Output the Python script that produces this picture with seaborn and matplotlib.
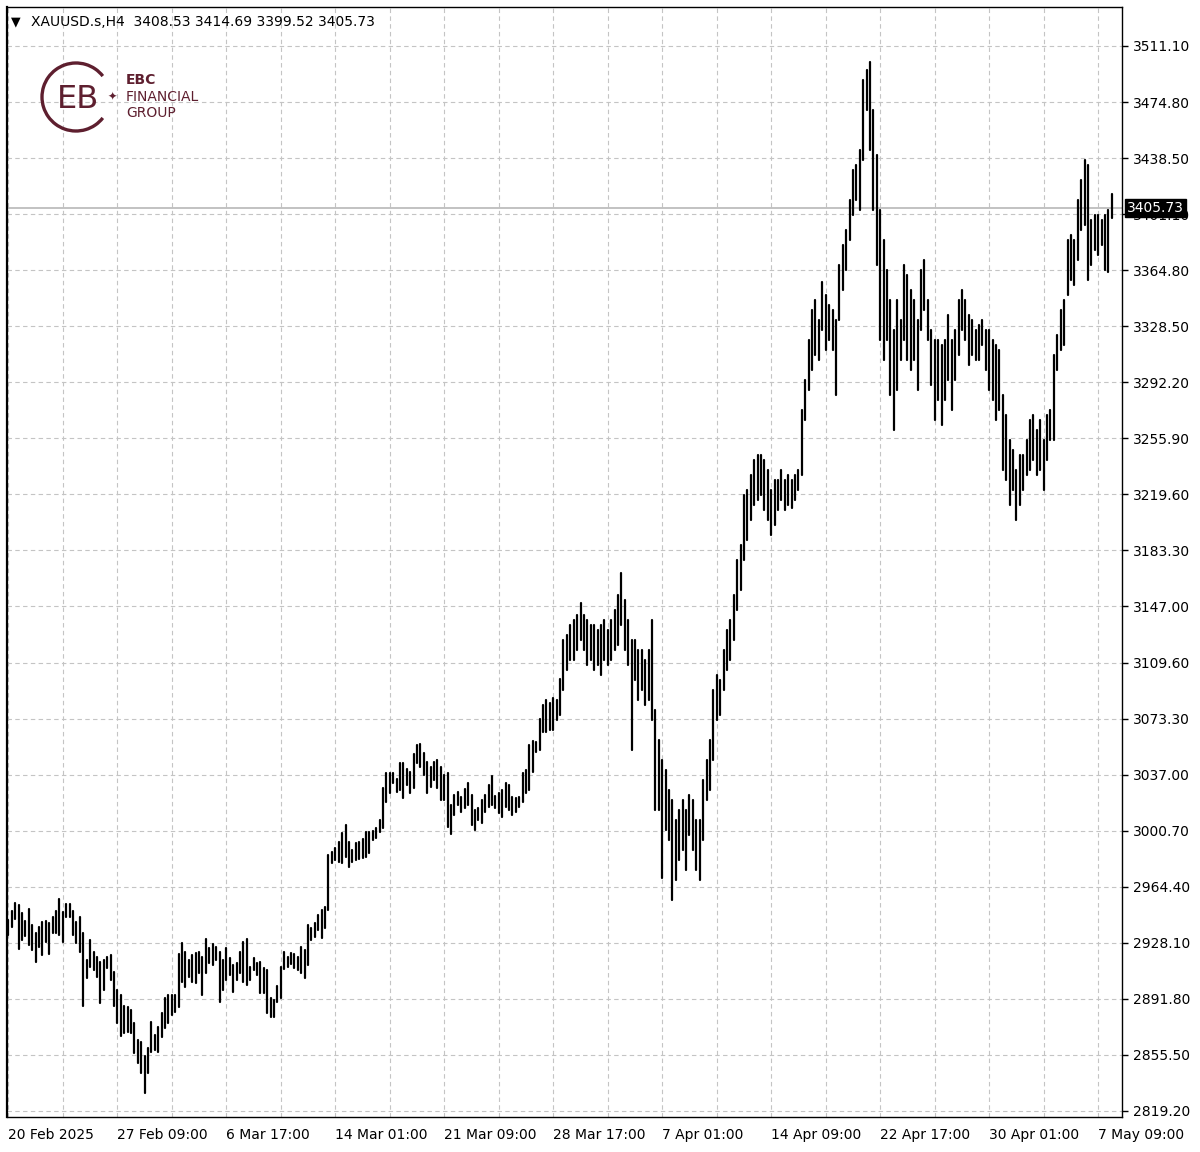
import numpy as np
import pandas as pd
import matplotlib.pyplot as plt
import matplotlib.transforms as mtransforms
from matplotlib.patches import Arc
import seaborn as sns

# XAUUSD.s H4 bars from 20 Feb 2025 01:00, high / low
high = [
    2943.3, 2949.4, 2954.6, 2953.0, 2947.6, 2942.9, 2950.2, 2940.0, 2934.6, 2939.0,
    2942.2, 2942.9, 2941.6, 2945.0, 2949.4, 2956.7, 2948.7, 2953.7, 2953.7, 2949.4,
    2942.2, 2945.0, 2934.6, 2917.3, 2930.3, 2922.7, 2919.5, 2916.2, 2917.3, 2919.5,
    2920.6, 2909.7, 2897.8, 2894.6, 2887.4, 2887.0, 2884.8, 2876.6, 2865.3, 2864.2,
    2854.9, 2859.9, 2877.2, 2868.6, 2874.0, 2883.1, 2892.4, 2894.6, 2894.6, 2894.6,
    2921.2, 2928.1, 2922.7, 2917.3, 2920.6, 2921.6, 2922.7, 2919.5, 2930.7, 2924.9,
    2927.7, 2926.0, 2922.7, 2917.3, 2924.9, 2918.4, 2914.1, 2915.6, 2922.7, 2929.2,
    2930.7, 2913.0, 2918.4, 2915.6, 2916.2, 2911.9, 2910.8, 2892.4, 2891.3, 2900.4,
    2913.0, 2922.7, 2919.5, 2922.1, 2921.2, 2919.5, 2926.0, 2923.8, 2940.0, 2937.9,
    2941.1, 2946.5, 2949.8, 2951.9, 2985.5, 2987.7, 2989.9, 2994.2, 3000.0, 3005.0,
    2994.2, 2988.8, 2993.1, 2994.2, 2995.7, 3000.7, 3000.7, 3001.3, 3002.9, 3008.3,
    3028.8, 3038.6, 3039.0, 3038.6, 3034.7, 3045.5, 3045.1, 3041.2, 3039.7, 3051.2,
    3057.0, 3057.6, 3051.6, 3046.2, 3042.9, 3046.2, 3047.2, 3042.9, 3037.5, 3038.6,
    3018.0, 3024.5, 3026.7, 3023.4, 3028.2, 3032.1, 3024.5, 3014.8, 3015.8, 3021.2,
    3024.5, 3031.0, 3036.8, 3023.8, 3025.6, 3027.8, 3032.1, 3031.0, 3023.4, 3022.3,
    3023.4, 3038.6, 3040.7, 3057.0, 3059.8, 3059.2, 3073.7, 3083.0, 3086.2, 3084.5,
    3087.3, 3086.2, 3100.0, 3125.2, 3128.5, 3135.0, 3138.2, 3141.5, 3149.2, 3141.5,
    3138.2, 3135.0, 3135.0, 3131.7, 3135.0, 3138.2, 3131.7, 3138.2, 3144.7, 3154.4,
    3168.7, 3151.2, 3138.2, 3125.2, 3125.2, 3118.7, 3118.7, 3112.2, 3118.7, 3138.2,
    3079.7, 3060.2, 3047.2, 3040.7, 3027.8, 3021.3, 3008.3, 3014.8, 3021.3, 3014.8,
    3024.5, 3021.3, 3008.3, 3008.3, 3034.3, 3047.2, 3060.2, 3092.7, 3102.5, 3099.2,
    3118.7, 3131.7, 3138.2, 3154.4, 3177.2, 3186.9, 3219.4, 3222.7, 3232.4, 3242.2,
    3245.4, 3245.4, 3242.2, 3235.7, 3222.7, 3229.2, 3229.2, 3235.7, 3229.2, 3232.4,
    3229.2, 3232.4, 3235.7, 3274.6, 3294.1, 3320.1, 3339.6, 3346.1, 3333.1, 3357.8,
    3349.4, 3342.9, 3339.6, 3333.1, 3368.8, 3381.8, 3391.6, 3411.1, 3430.6, 3433.8,
    3443.6, 3489.0, 3495.5, 3500.7, 3469.5, 3440.3, 3404.6, 3385.1, 3365.6, 3346.1,
    3326.6, 3346.1, 3333.1, 3368.8, 3362.3, 3352.6, 3346.1, 3333.1, 3365.6, 3372.1,
    3346.1, 3326.6, 3320.1, 3320.1, 3316.9, 3320.1, 3336.4, 3320.1, 3326.6, 3346.1,
    3352.6, 3346.1, 3336.4, 3333.1, 3326.6, 3329.9, 3333.1, 3326.6, 3326.6, 3320.1,
    3316.9, 3313.6, 3284.4, 3271.4, 3255.1, 3248.7, 3235.7, 3245.4, 3245.4, 3255.1,
    3268.1, 3271.4, 3261.6, 3268.1, 3255.1, 3271.4, 3274.6, 3310.4, 3323.4, 3339.6,
    3346.1, 3385.1, 3388.3, 3385.1, 3411.1, 3424.1, 3437.1, 3433.8, 3398.1, 3401.3,
    3401.3, 3398.1, 3401.3, 3404.6, 3414.69,
]
low = [
    2933.5, 2938.5, 2943.7, 2924.2, 2930.3, 2932.9, 2927.1, 2923.8, 2916.2, 2926.0,
    2920.6, 2929.2, 2921.2, 2934.6, 2934.6, 2933.5, 2929.2, 2945.5, 2945.5, 2933.5,
    2928.1, 2922.7, 2887.4, 2905.4, 2913.0, 2910.8, 2906.0, 2889.6, 2897.8, 2911.9,
    2904.3, 2887.4, 2876.2, 2867.9, 2869.7, 2870.7, 2869.7, 2856.7, 2850.2, 2843.7,
    2830.7, 2843.7, 2857.7, 2858.8, 2857.7, 2867.5, 2872.9, 2876.2, 2881.6, 2883.7,
    2887.0, 2903.2, 2900.0, 2906.5, 2903.2, 2902.1, 2908.6, 2894.6, 2908.6, 2915.1,
    2914.1, 2917.3, 2890.2, 2897.8, 2904.3, 2907.6, 2896.7, 2904.3, 2908.6, 2903.2,
    2901.1, 2904.3, 2910.8, 2907.6, 2895.7, 2895.7, 2882.7, 2880.5, 2880.1, 2890.2,
    2892.4, 2911.2, 2913.0, 2914.7, 2911.9, 2910.8, 2908.6, 2905.4, 2914.1, 2930.3,
    2932.5, 2936.8, 2931.4, 2937.9, 2949.8, 2980.1, 2982.3, 2981.2, 2980.1, 2984.4,
    2977.9, 2981.2, 2982.3, 2982.7, 2983.4, 2984.4, 2986.6, 2995.3, 2996.4, 3000.7,
    3003.0, 3020.2, 3025.6, 3032.1, 3026.7, 3027.7, 3022.3, 3031.0, 3025.6, 3028.8,
    3045.1, 3042.9, 3037.5, 3025.6, 3029.9, 3034.3, 3028.8, 3021.3, 3021.3, 3003.9,
    2999.2, 3011.5, 3018.0, 3013.7, 3015.8, 3018.0, 3005.0, 3001.8, 3008.3, 3006.5,
    3013.7, 3016.9, 3018.0, 3015.8, 3012.6, 3010.4, 3016.9, 3014.8, 3011.5, 3013.7,
    3016.9, 3020.2, 3025.6, 3027.8, 3039.7, 3052.7, 3053.8, 3065.7, 3065.7, 3066.7,
    3066.7, 3073.2, 3076.5, 3092.7, 3105.7, 3112.2, 3112.2, 3118.7, 3125.2, 3118.7,
    3109.0, 3112.2, 3105.7, 3109.0, 3102.5, 3112.2, 3109.0, 3112.2, 3118.7, 3122.0,
    3135.0, 3118.7, 3109.0, 3053.7, 3099.2, 3086.2, 3092.7, 3083.0, 3086.2, 3073.2,
    3014.8, 3014.8, 2970.6, 3001.8, 2995.3, 2956.3, 2969.3, 2982.3, 2988.8, 2975.8,
    2998.5, 2988.8, 2975.8, 2969.3, 2995.3, 3021.3, 3027.8, 3047.2, 3073.2, 3076.5,
    3092.7, 3105.7, 3112.2, 3125.2, 3144.7, 3157.7, 3177.2, 3190.2, 3203.2, 3212.9,
    3216.2, 3219.4, 3209.7, 3203.2, 3193.4, 3199.9, 3209.7, 3216.2, 3209.7, 3212.9,
    3211.0, 3216.2, 3222.7, 3232.4, 3268.1, 3287.6, 3300.6, 3310.4, 3307.1, 3326.6,
    3313.6, 3320.1, 3313.6, 3284.4, 3333.1, 3352.6, 3365.6, 3385.1, 3401.3, 3411.1,
    3404.6, 3437.1, 3469.5, 3443.6, 3404.6, 3368.8, 3320.1, 3307.1, 3320.1, 3284.4,
    3261.6, 3287.6, 3307.1, 3320.1, 3307.1, 3300.6, 3307.1, 3287.6, 3326.6, 3339.6,
    3320.1, 3290.9, 3268.1, 3281.1, 3264.9, 3281.1, 3294.1, 3274.6, 3294.1, 3310.4,
    3326.6, 3320.1, 3303.9, 3310.4, 3307.1, 3307.1, 3316.9, 3300.6, 3287.6, 3281.1,
    3268.1, 3274.6, 3235.7, 3229.2, 3212.9, 3222.7, 3203.2, 3212.9, 3222.7, 3232.4,
    3235.7, 3242.2, 3232.4, 3235.7, 3222.7, 3242.2, 3255.1, 3255.1, 3300.6, 3313.6,
    3316.9, 3349.4, 3359.1, 3355.9, 3372.1, 3391.6, 3394.8, 3359.1, 3368.8, 3378.6,
    3375.3, 3381.8, 3365.6, 3364.0, 3399.52,
]

x_labels = ["20 Feb 2025", "27 Feb 09:00", "6 Mar 17:00", "14 Mar 01:00",
            "21 Mar 09:00", "28 Mar 17:00", "7 Apr 01:00", "14 Apr 09:00",
            "22 Apr 17:00", "30 Apr 01:00", "7 May 09:00"]
y_labels = ["2819.20", "2855.50", "2891.80", "2928.10", "2964.40", "3000.70",
            "3037.00", "3073.30", "3109.60", "3147.00", "3183.30", "3219.60",
            "3255.90", "3292.20", "3328.50", "3364.80", "3401.10", "3438.50",
            "3474.80", "3511.10"]
symbol = "XAUUSD.s,H4"
last_ohlc = ["3408.53", "3414.69", "3399.52", "3405.73"]
last_price = 3405.73

# long format: two rows per bar (high and low) -> one vertical segment per bar
bars = np.arange(len(high))
df = pd.DataFrame({"bar": np.concatenate([bars, bars]),
                   "price": np.concatenate([high, low])})

sns.set_style("white")
plt.rcParams["font.family"] = ["DejaVu Sans"]
plt.rcParams["text.color"] = "black"

W, H = 1200, 1152
fig = plt.figure(figsize=(W / 100, H / 100), dpi=100)
ax = fig.add_axes([7 / W, 35 / H, 1115 / W, 1110 / H])

sns.lineplot(data=df, x="bar", y="price", units="bar", estimator=None,
             color="black", linewidth=1.6, ax=ax, legend=False)

ax.set_xlim(-0.4, 327.0)
ax.set_ylim(2815.3, 3536.4)
ax.set_xlabel("")
ax.set_ylabel("")

# price scale on the right
ax.set_yticks(np.linspace(2819.2, 3511.1, len(y_labels)))
ax.set_yticklabels(y_labels)
ax.yaxis.tick_right()
ax.tick_params(axis="y", direction="out", length=4, width=1, pad=4,
               labelsize=10, colors="black")

# time scale: label every 32 bars, grid every 16
ax.set_xticks(np.arange(0, 32 * len(x_labels), 32))
ax.set_xticklabels(x_labels)
ax.set_xticks(np.arange(16, 330, 32), minor=True)
ax.tick_params(axis="x", which="major", direction="out", length=5, width=1,
               pad=3, labelsize=10, colors="black")
ax.tick_params(axis="x", which="minor", length=0)
for lab in ax.get_xticklabels():
    lab.set_ha("left")

ax.grid(True, which="both", axis="x", color="#c4c4c4", linestyle=(0, (4, 3)), linewidth=0.8)
ax.grid(True, which="major", axis="y", color="#c4c4c4", linestyle=(0, (4, 3)), linewidth=0.8)
ax.set_axisbelow(True)

for side, sp in ax.spines.items():
    sp.set_visible(True)
    sp.set_color("black")
    sp.set_linewidth(1.0)
ax.spines["left"].set_linewidth(1.6)

# current price line and marker
ax.axhline(last_price, color="#bdbdbd", linewidth=1.3, zorder=1)
mix = mtransforms.blended_transform_factory(fig.transFigure, ax.transData)
fig.text(1127 / W, last_price, f"{last_price:.2f}", transform=mix, color="white",
         fontsize=10, va="center", ha="left", zorder=10,
         bbox=dict(facecolor="black", edgecolor="black", pad=1.5))

# pixel transform (origin top-left) for the overlays
pix = mtransforms.Affine2D().scale(1 / W, -1 / H).translate(0, 1) + fig.transFigure

fig.text(11, 22, "\u25bc", transform=pix, fontsize=9, va="center", ha="left")
fig.text(31, 22, symbol + "  " + " ".join(last_ohlc), transform=pix,
         fontsize=10, va="center", ha="left")

# EBC logo
maroon = "#5e1f2f"
fig.add_artist(Arc((76, 97), 68, 68, theta1=38, theta2=322, transform=pix,
                   color=maroon, linewidth=2.4))
fig.text(78, 99, "EB", transform=pix, fontsize=23, color=maroon,
         ha="center", va="center")
fig.text(112, 97, "\u2726", transform=pix, fontsize=8, color=maroon,
         ha="center", va="center")
fig.text(126, 80, "EBC", transform=pix, fontsize=10, color=maroon,
         fontweight="bold", ha="left", va="center")
fig.text(126, 97, "FINANCIAL", transform=pix, fontsize=10, color=maroon,
         ha="left", va="center")
fig.text(126, 113, "GROUP", transform=pix, fontsize=10, color=maroon,
         ha="left", va="center")

fig.savefig("out.png", dpi=100)
